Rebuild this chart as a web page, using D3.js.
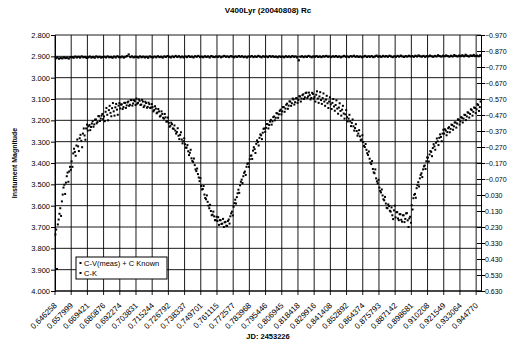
<!DOCTYPE html>
<html>
<head>
<meta charset="utf-8">
<script src="https://cdn.jsdelivr.net/npm/d3@7"></script>
<style>
  body { margin: 0; background: #fff; }
  text { font-family: "Liberation Sans", Arial, sans-serif; fill: #000; }
</style>
</head>
<body>
<svg id="chart" width="507" height="344"></svg>
<script>
// tick labels of the category axis (one every 20 samples)
var jdLabels = ["0.646258", "0.657999", "0.669421", "0.680876", "0.692274", "0.703831",
  "0.715244", "0.726792", "0.738337", "0.749701", "0.761115", "0.772577", "0.783968",
  "0.795446", "0.806945", "0.818418", "0.829916", "0.841408", "0.852892", "0.864374",
  "0.875793", "0.887142", "0.898681", "0.910208", "0.921549", "0.933064", "0.944770"];
var labelEvery = 20;

var leftTicks = [2.8, 2.9, 3.0, 3.1, 3.2, 3.3, 3.4, 3.5, 3.6, 3.7, 3.8, 3.9, 4.0];
var rightTicks = [-0.97, -0.87, -0.77, -0.67, -0.57, -0.47, -0.37, -0.27, -0.17, -0.07,
  0.03, 0.13, 0.23, 0.33, 0.43, 0.53, 0.63];

// C-V(meas) + C Known (left axis), one value per sample
var cvMag = [
  3.735, 3.712, 3.897, 3.688, 3.665, 3.638, 3.612, 3.648, 3.580, 3.548,
  3.515, 3.502, 3.545, 3.492, 3.462, 3.445, 3.488, 3.440, 3.418, 3.432,
  3.392, 3.418, 3.355, 3.333, 3.348, 3.366, 3.318, 3.290, 3.322, 3.344,
  3.284, 3.268, 3.296, 3.326, 3.262, 3.238, 3.271, 3.291, 3.238, 3.220,
  3.248, 3.228, 3.222, 3.246, 3.231, 3.215, 3.204, 3.230, 3.219, 3.197,
  3.196, 3.214, 3.208, 3.180, 3.181, 3.203, 3.192, 3.178, 3.170, 3.194,
  3.182, 3.204, 3.160, 3.142, 3.174, 3.200, 3.152, 3.132, 3.165, 3.181,
  3.143, 3.119, 3.158, 3.178, 3.139, 3.123, 3.150, 3.174, 3.131, 3.119,
  3.144, 3.126, 3.125, 3.147, 3.138, 3.118, 3.118, 3.142, 3.130, 3.116,
  3.112, 3.132, 3.127, 3.105, 3.105, 3.131, 3.121, 3.105, 3.110, 3.128,
  3.098, 3.122, 3.118, 3.102, 3.108, 3.128, 3.126, 3.104, 3.112, 3.138,
  3.131, 3.113, 3.119, 3.141, 3.137, 3.117, 3.124, 3.142, 3.140, 3.124,
  3.138, 3.158, 3.152, 3.134, 3.145, 3.167, 3.163, 3.147, 3.158, 3.182,
  3.178, 3.158, 3.170, 3.188, 3.192, 3.170, 3.186, 3.206, 3.205, 3.187,
  3.212, 3.230, 3.225, 3.211, 3.218, 3.238, 3.240, 3.224, 3.248, 3.262,
  3.255, 3.237, 3.272, 3.288, 3.268, 3.256, 3.290, 3.308, 3.298, 3.284,
  3.312, 3.328, 3.328, 3.316, 3.345, 3.363, 3.352, 3.338, 3.378, 3.390,
  3.395, 3.379, 3.410, 3.430, 3.438, 3.426, 3.452, 3.468, 3.485, 3.471,
  3.508, 3.524, 3.522, 3.508, 3.548, 3.564, 3.570, 3.552, 3.582, 3.600,
  3.612, 3.596, 3.625, 3.645, 3.642, 3.628, 3.650, 3.668, 3.668, 3.652,
  3.672, 3.654, 3.690, 3.668, 3.668, 3.686, 3.684, 3.662, 3.700, 3.678,
  3.676, 3.694, 3.695, 3.672, 3.665, 3.684, 3.650, 3.636, 3.628, 3.646,
  3.605, 3.588, 3.572, 3.590, 3.560, 3.542, 3.525, 3.540, 3.505, 3.488,
  3.478, 3.494, 3.462, 3.446, 3.440, 3.456, 3.418, 3.404, 3.402, 3.418,
  3.382, 3.366, 3.365, 3.381, 3.342, 3.326, 3.335, 3.353, 3.310, 3.294,
  3.302, 3.318, 3.282, 3.266, 3.270, 3.288, 3.258, 3.240, 3.238, 3.254,
  3.235, 3.217, 3.218, 3.238, 3.222, 3.206, 3.198, 3.220, 3.205, 3.185,
  3.182, 3.200, 3.188, 3.166, 3.168, 3.188, 3.172, 3.156, 3.150, 3.172,
  3.158, 3.138, 3.138, 3.160, 3.145, 3.127, 3.122, 3.146, 3.131, 3.111,
  3.112, 3.132, 3.120, 3.098, 3.102, 3.126, 3.115, 3.097, 3.096, 3.118,
  3.105, 3.087, 3.088, 3.112, 3.098, 3.082, 3.078, 3.100, 3.092, 3.072,
  3.070, 3.096, 3.088, 3.070, 3.082, 3.102, 3.095, 3.071, 3.076, 3.098,
  3.090, 3.112, 3.080, 3.064, 3.098, 3.118, 3.088, 3.068, 3.105, 3.123,
  3.096, 3.074, 3.112, 3.132, 3.103, 3.085, 3.120, 3.142, 3.112, 3.092,
  3.125, 3.147, 3.118, 3.100, 3.135, 3.155, 3.128, 3.106, 3.145, 3.169,
  3.140, 3.120, 3.156, 3.178, 3.150, 3.132, 3.168, 3.192, 3.172, 3.152,
  3.185, 3.205, 3.192, 3.174, 3.205, 3.227, 3.212, 3.196, 3.228, 3.248,
  3.236, 3.218, 3.250, 3.272, 3.262, 3.246, 3.275, 3.293, 3.290, 3.270,
  3.302, 3.320, 3.325, 3.311, 3.338, 3.354, 3.362, 3.346, 3.380, 3.398,
  3.405, 3.391, 3.428, 3.444, 3.448, 3.430, 3.472, 3.486, 3.495, 3.479,
  3.515, 3.531, 3.538, 3.524, 3.552, 3.570, 3.575, 3.559, 3.590, 3.610,
  3.612, 3.594, 3.602, 3.624, 3.628, 3.608, 3.645, 3.663, 3.622, 3.600,
  3.655, 3.631, 3.630, 3.660, 3.668, 3.640, 3.640, 3.666, 3.675, 3.645,
  3.645, 3.677, 3.662, 3.636, 3.635, 3.669, 3.700, 3.660, 3.652, 3.680,
  3.598, 3.618, 3.565, 3.549, 3.545, 3.563, 3.518, 3.504, 3.490, 3.510,
  3.472, 3.456, 3.448, 3.466, 3.430, 3.416, 3.412, 3.428, 3.392, 3.374,
  3.375, 3.393, 3.360, 3.344, 3.348, 3.368, 3.330, 3.312, 3.322, 3.338,
  3.305, 3.285, 3.298, 3.316, 3.282, 3.266, 3.278, 3.298, 3.262, 3.244,
  3.262, 3.242, 3.248, 3.270, 3.255, 3.237, 3.232, 3.256, 3.240, 3.220,
  3.222, 3.244, 3.228, 3.210, 3.210, 3.234, 3.215, 3.195, 3.198, 3.220,
  3.205, 3.185, 3.188, 3.210, 3.192, 3.174, 3.175, 3.199, 3.182, 3.162,
  3.165, 3.187, 3.170, 3.148, 3.152, 3.178, 3.160, 3.140, 3.142, 3.166,
  3.148, 3.124, 3.128, 3.156, 3.138, 3.112
];

// C-K (right axis), one value per two samples
var ckMag = [
  -0.825, -0.829, -0.822, -0.827, -0.824, -0.830, -0.826, -0.828, -0.823, -0.831,
  -0.832, -0.828, -0.835, -0.830, -0.834, -0.829, -0.836, -0.831, -0.833, -0.827,
  -0.830, -0.835, -0.829, -0.833, -0.828, -0.836, -0.831, -0.834, -0.829, -0.832,
  -0.834, -0.830, -0.836, -0.831, -0.833, -0.828, -0.835, -0.830, -0.837, -0.832,
  -0.831, -0.835, -0.829, -0.834, -0.838, -0.848, -0.832, -0.836, -0.830, -0.834,
  -0.833, -0.829, -0.836, -0.831, -0.835, -0.830, -0.834, -0.828, -0.836, -0.832,
  -0.830, -0.835, -0.831, -0.837, -0.832, -0.834, -0.829, -0.836, -0.833, -0.838,
  -0.834, -0.830, -0.836, -0.832, -0.839, -0.833, -0.837, -0.831, -0.835, -0.830,
  -0.836, -0.832, -0.838, -0.833, -0.835, -0.830, -0.837, -0.834, -0.839, -0.832,
  -0.835, -0.831, -0.837, -0.833, -0.836, -0.830, -0.838, -0.834, -0.832, -0.836,
  -0.833, -0.837, -0.831, -0.835, -0.839, -0.834, -0.836, -0.832, -0.838, -0.835,
  -0.831, -0.836, -0.833, -0.838, -0.834, -0.837, -0.832, -0.835, -0.830, -0.836,
  -0.834, -0.838, -0.832, -0.836, -0.833, -0.839, -0.835, -0.831, -0.837, -0.834,
  -0.836, -0.832, -0.838, -0.834, -0.837, -0.833, -0.835, -0.831, -0.836, -0.833,
  -0.835, -0.831, -0.837, -0.833, -0.836, -0.832, -0.838, -0.834, -0.836, -0.830,
  -0.812, -0.834, -0.837, -0.832, -0.836, -0.833, -0.839, -0.835, -0.831, -0.836,
  -0.834, -0.838, -0.833, -0.836, -0.832, -0.837, -0.835, -0.839, -0.834, -0.836,
  -0.832, -0.837, -0.834, -0.838, -0.833, -0.836, -0.831, -0.835, -0.839, -0.834,
  -0.836, -0.832, -0.838, -0.835, -0.840, -0.834, -0.837, -0.833, -0.836, -0.831,
  -0.835, -0.839, -0.833, -0.837, -0.834, -0.838, -0.832, -0.836, -0.841, -0.835,
  -0.837, -0.833, -0.839, -0.835, -0.838, -0.834, -0.840, -0.836, -0.832, -0.837,
  -0.834, -0.839, -0.835, -0.841, -0.836, -0.833, -0.838, -0.835, -0.840, -0.836,
  -0.838, -0.834, -0.840, -0.836, -0.842, -0.837, -0.835, -0.839, -0.834, -0.838,
  -0.836, -0.841, -0.837, -0.834, -0.839, -0.836, -0.843, -0.838, -0.835, -0.840,
  -0.837, -0.842, -0.838, -0.835, -0.840, -0.836, -0.844, -0.839, -0.836, -0.841,
  -0.838, -0.843, -0.837, -0.846, -0.840, -0.836, -0.842, -0.839, -0.845, -0.838,
  -0.841, -0.837, -0.843
];

var margin = {top: 35, right: 26, bottom: 53, left: 55};
var W = 507, H = 344;
var width = W - margin.left - margin.right,
    height = H - margin.top - margin.bottom;

var svg = d3.select("#chart")
  .append("g")
  .attr("transform", "translate(" + margin.left + "," + margin.top + ")");

var n = cvMag.length;
var ckStep = n / ckMag.length;
var xScale = d3.scaleLinear().domain([0, n]).range([0, width]);
var yLeft = d3.scaleLinear().domain([2.8, 4.0]).range([0, height]);
var yRight = d3.scaleLinear().domain([-0.97, 0.63]).range([0, height]);

var tickIdx = d3.range(jdLabels.length).map(function(k) { return k * labelEvery; });

// grid
svg.append("g").selectAll("line")
  .data(leftTicks)
  .enter().append("line")
  .attr("x1", 0).attr("x2", width)
  .attr("y1", function(d) { return yLeft(d); })
  .attr("y2", function(d) { return yLeft(d); })
  .attr("stroke", "#000").attr("stroke-width", 0.9);

svg.append("g").selectAll("line")
  .data(tickIdx)
  .enter().append("line")
  .attr("x1", function(d) { return xScale(d); })
  .attr("x2", function(d) { return xScale(d); })
  .attr("y1", 0).attr("y2", height + 4)
  .attr("stroke", "#000").attr("stroke-width", 0.9);

// axes
var leftAxis = d3.axisLeft(yLeft).tickValues(leftTicks).tickSize(4)
  .tickFormat(d3.format(".3f"));
var gl = svg.append("g").call(leftAxis);

var rightAxis = d3.axisRight(yRight).tickValues(rightTicks).tickSize(4)
  .tickFormat(d3.format(".3f"));
var gr = svg.append("g").attr("transform", "translate(" + width + ",0)").call(rightAxis);
gr.selectAll(".tick line").attr("x1", -4);

gl.select(".domain").attr("stroke", "#000");
gr.select(".domain").attr("stroke", "#000");
gl.selectAll(".tick text").attr("x", -5)
  .style("font-size", "7.5px").style("font-family", "Liberation Sans, Arial, sans-serif");
gr.selectAll(".tick text").attr("x", 4)
  .style("font-size", "7px").style("font-family", "Liberation Sans, Arial, sans-serif");

svg.append("line")
  .attr("x1", 0).attr("x2", width)
  .attr("y1", height).attr("y2", height)
  .attr("stroke", "#000");

// category labels
svg.append("g").selectAll("text")
  .data(jdLabels)
  .enter().append("text")
  .attr("transform", function(d, k) {
    return "translate(" + xScale(k * labelEvery + 0.5) + "," + (height + 13) + ") rotate(-45)";
  })
  .attr("text-anchor", "end")
  .attr("dy", "0.35em")
  .style("font-size", "8px")
  .text(function(d) { return d; });

// points
svg.append("g").selectAll("rect")
  .data(ckMag)
  .enter().append("rect")
  .attr("x", function(d, j) { return xScale((j + 0.5) * ckStep) - 1.1; })
  .attr("y", function(d) { return yRight(d) - 1.1; })
  .attr("width", 2.2).attr("height", 2.2)
  .attr("fill", "#000");

svg.append("g").selectAll("rect")
  .data(cvMag)
  .enter().append("rect")
  .attr("x", function(d, i) { return xScale(i + 0.5) - 1; })
  .attr("y", function(d) { return yLeft(d) - 1; })
  .attr("width", 2).attr("height", 2)
  .attr("fill", "#000");

// titles
d3.select("#chart").append("text")
  .attr("x", margin.left + width / 2).attr("y", 13)
  .attr("text-anchor", "middle")
  .style("font-size", "8px").style("font-weight", "bold")
  .text("V400Lyr (20040808) Rc");

d3.select("#chart").append("text")
  .attr("transform", "translate(17," + (margin.top + height / 2) + ") rotate(-90)")
  .attr("text-anchor", "middle")
  .style("font-size", "7px").style("font-weight", "bold")
  .text("Instument Magnitude");

d3.select("#chart").append("text")
  .attr("x", margin.left + width / 2).attr("y", 339)
  .attr("text-anchor", "middle")
  .style("font-size", "7.5px").style("font-weight", "bold")
  .text("JD: 2453226");

// legend
var legend = svg.append("g").attr("transform", "translate(21,222)");
legend.append("rect")
  .attr("width", 91).attr("height", 22)
  .attr("fill", "#fff").attr("stroke", "#000");
var series = ["C-V(meas) + C Known", "C-K"];
series.forEach(function(name, j) {
  legend.append("rect")
    .attr("x", 3.5).attr("y", 6 + j * 10 - 1)
    .attr("width", 2).attr("height", 2).attr("fill", "#000");
  legend.append("text")
    .attr("x", 8).attr("y", 6 + j * 10)
    .attr("dy", "0.35em")
    .style("font-size", "7.5px")
    .text(name);
});
</script>
</body>
</html>
